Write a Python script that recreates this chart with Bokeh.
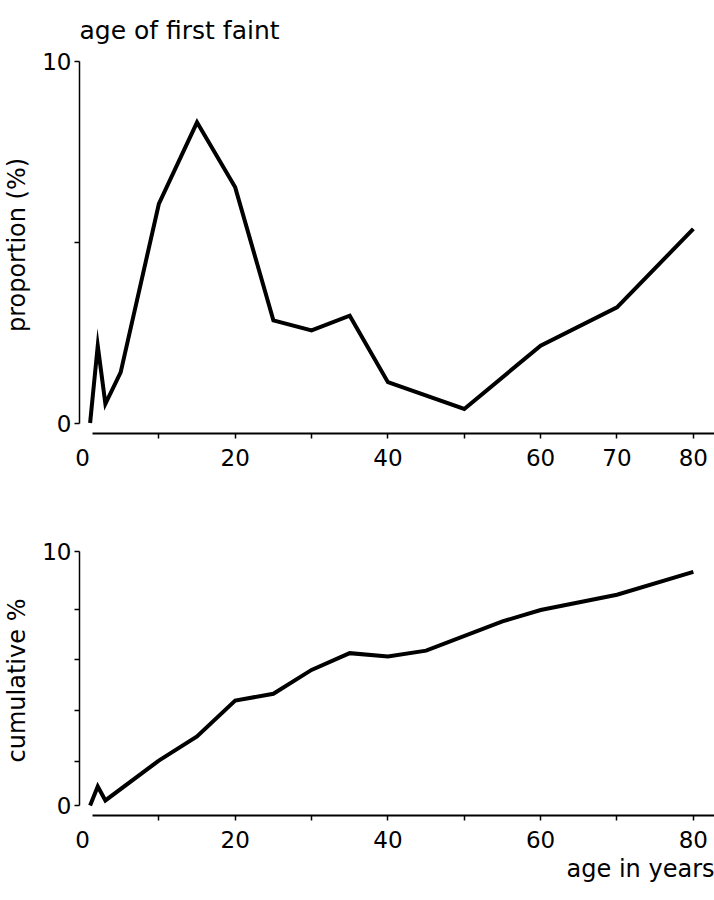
from bokeh.plotting import figure
from bokeh.layouts import column
from bokeh.models import Range1d, FixedTicker, LinearAxis, Title
from bokeh.embed import file_html
from bokeh.resources import INLINE

# ---- data ----
title_text = "age of first faint"
x_title = "age in years"
y1_title = "proportion (%)"
y2_title = "cumulative %"

ages_prop = [1, 2, 3, 5, 10, 15, 20, 25, 30, 35, 40, 50, 60, 70, 80]
prop_pct = [0.0, 2.14, 0.53, 1.4, 6.06, 8.32, 6.52, 2.84, 2.56, 2.97, 1.13, 0.39, 2.14, 3.2, 5.37]

ages_cum = [1, 2, 3, 10, 15, 20, 25, 30, 35, 40, 45, 55, 60, 70, 80]
cum_pct = [0.0, 0.75, 0.2, 1.77, 2.72, 4.13, 4.4, 5.34, 6.0, 5.87, 6.1, 7.25, 7.7, 8.3, 9.2]

x_ticks = [10, 20, 30, 40, 50, 60, 70, 80]
x_labels_top = [0, 20, 40, 60, 70, 80]
x_labels_bottom = [0, 20, 40, 60, 80]
y1_ticks = [0, 5, 10]
y2_ticks = [0, 1.72, 3.73, 5.74, 7.72, 10]   # tick marks as drawn on the original axis
y_labeled = [0, 10]

FONT = "DejaVu Sans"
TICK_FS = "23px"
AXLAB_FS = "24px"
TITLE_FS = "25px"
W = 714
X_START, X_END = -0.39, 82.77


def make_fig(height, y_range, ticks_y, ytitle, labels_x, top_border, bottom_border):
    p = figure(width=W, height=height, x_range=Range1d(X_START, X_END), y_range=y_range,
               output_backend="svg", toolbar_location=None,
               min_border_left=77, min_border_right=0,
               min_border_top=top_border, min_border_bottom=bottom_border)
    p.outline_line_color = None
    p.grid.visible = False
    p.background_fill_color = "white"
    p.border_fill_color = "white"

    # x axis: line + tick marks only
    ax = p.xaxis[0]
    ax.ticker = FixedTicker(ticks=x_ticks, minor_ticks=[])
    ax.bounds = (1.3, X_END)
    ax.axis_line_width = 2
    ax.axis_line_color = "black"
    ax.major_tick_in = 0
    ax.major_tick_out = 5
    ax.major_tick_line_width = 1.5
    ax.major_tick_line_color = "black"
    ax.minor_tick_line_color = None
    ax.major_label_overrides = {t: "" for t in x_ticks}
    ax.major_label_text_font_size = "1px"
    ax.major_label_standoff = 0

    # x axis: labels only
    lab = LinearAxis(ticker=FixedTicker(ticks=labels_x, minor_ticks=[]))
    lab.axis_line_color = None
    lab.major_tick_line_color = None
    lab.minor_tick_line_color = None
    lab.major_tick_in = 0
    lab.major_tick_out = 0
    lab.major_label_standoff = 10
    lab.major_label_text_font = FONT
    lab.major_label_text_font_size = TICK_FS
    lab.major_label_text_color = "black"
    p.add_layout(lab, "below")

    # y axis
    ay = p.yaxis[0]
    ay.ticker = FixedTicker(ticks=ticks_y, minor_ticks=[])
    ay.bounds = (0, 10)
    ay.major_label_overrides = {t: ("" if t not in y_labeled else str(t)) for t in ticks_y}
    ay.axis_line_width = 1.5
    ay.axis_line_color = "black"
    ay.major_tick_in = 0
    ay.major_tick_out = 5
    ay.major_tick_line_width = 1.5
    ay.major_tick_line_color = "black"
    ay.minor_tick_line_color = None
    ay.major_label_standoff = 3
    ay.major_label_text_font = FONT
    ay.major_label_text_font_size = TICK_FS
    ay.major_label_text_color = "black"
    ay.axis_label = ytitle
    ay.axis_label_text_font = FONT
    ay.axis_label_text_font_size = AXLAB_FS
    ay.axis_label_text_font_style = "normal"
    ay.axis_label_text_color = "black"
    ay.axis_label_standoff = 8
    return p


# top panel: frame 56..433, 0 -> 422.5, 10 -> 61
p1 = make_fig(480, Range1d(-0.29, 10.14), y1_ticks, y1_title, x_labels_top, 56, 47)
p1.title = Title(text=title_text, align="left", vertical_align="top",
                 text_font=FONT, text_font_size=TITLE_FS, text_font_style="normal",
                 text_color="black", standoff=19)
p1.line(ages_prop, prop_pct, line_color="black", line_width=4, line_join="miter")

# bottom panel: frame 545..815, 0 -> 805, 10 -> 551
p2 = make_fig(420, Range1d(-0.394, 10.24), y2_ticks, y2_title, x_labels_bottom, 65, 85)
p2.add_layout(Title(text=x_title, align="right", vertical_align="top",
                    text_font=FONT, text_font_size=AXLAB_FS, text_font_style="normal",
                    text_color="black", standoff=8), "below")
p2.line(ages_cum, cum_pct, line_color="black", line_width=4, line_join="miter")

layout = column(p1, p2, spacing=0)
open("out.html", "w").write(file_html(layout, INLINE))
